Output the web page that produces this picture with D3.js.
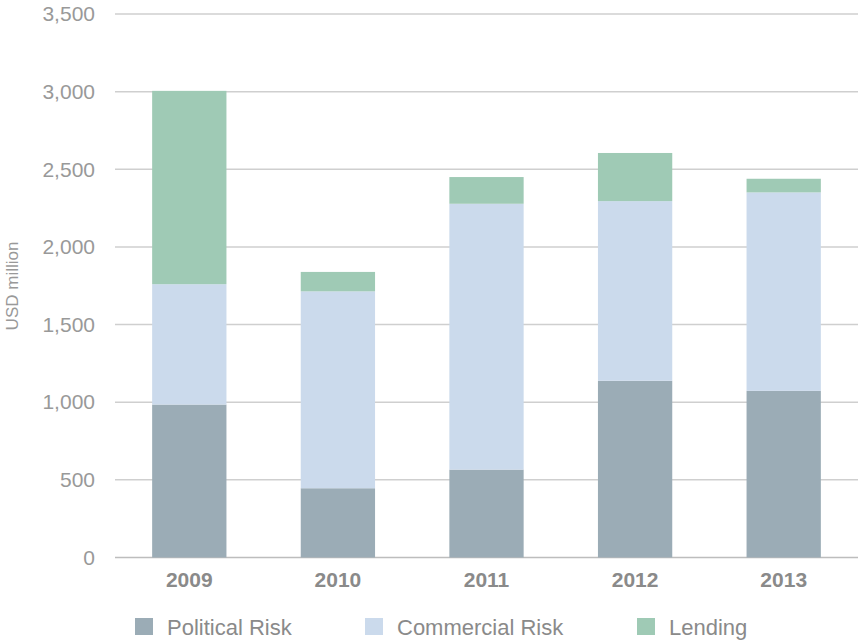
<!DOCTYPE html>
<html>
<head>
<meta charset="utf-8">
<script src="https://cdn.jsdelivr.net/npm/d3@7"></script>
<style>
  body { margin: 0; background: #fff; }
  svg { display: block; font-family: "Liberation Sans", Arial, sans-serif; }
</style>
</head>
<body>
<svg width="860" height="640"></svg>
<script>
const years = ["2009", "2010", "2011", "2012", "2013"];
const politicalRisk = [985, 446, 566, 1138, 1073];
const commercialRisk = [775, 1268, 1712, 1157, 1278];
const lending = [1245, 125, 172, 310, 88];
const yTicks = [0, 500, 1000, 1500, 2000, 2500, 3000, 3500];

const seriesNames = ["Political Risk", "Commercial Risk", "Lending"];
const seriesColors = ["#9bacb6", "#cbdaec", "#9fcab5"];

const svg = d3.select("svg");

const rows = years.map((y, i) => ({
    year: y,
    "Political Risk": politicalRisk[i],
    "Commercial Risk": commercialRisk[i],
    "Lending": lending[i]
}));

const stacked = d3.stack().keys(seriesNames)(rows);

const x = d3.scaleBand()
    .domain(years)
    .range([115, 858])
    .paddingInner(0.5)
    .paddingOuter(0.25);

const y = d3.scaleLinear()
    .domain([0, 3500])
    .range([557.5, 14]);

// grid lines
svg.append("g")
    .selectAll("line")
    .data(yTicks)
    .join("line")
    .attr("x1", 115)
    .attr("x2", 858)
    .attr("y1", d => y(d))
    .attr("y2", d => y(d))
    .attr("stroke", d => d === 0 ? "#bdbdbd" : "#cfcfcf")
    .attr("stroke-width", 1.5);

// y axis labels
const yAxis = svg.append("g")
    .attr("transform", "translate(95,0)")
    .call(d3.axisLeft(y).tickValues(yTicks).tickSize(0).tickPadding(0).tickFormat(d3.format(",")));
yAxis.select(".domain").remove();
yAxis.selectAll("text")
    .attr("fill", "#999")
    .attr("font-size", 21)
    .attr("font-family", "Liberation Sans, Arial, sans-serif");

// axis title
svg.append("text")
    .attr("transform", "translate(18,286) rotate(-90)")
    .attr("text-anchor", "middle")
    .attr("fill", "#999")
    .attr("font-size", 17)
    .text("USD million");

// bars
svg.append("g")
    .selectAll("g")
    .data(stacked)
    .join("g")
    .attr("fill", (d, i) => seriesColors[i])
    .selectAll("rect")
    .data(d => d)
    .join("rect")
    .attr("x", d => x(d.data.year))
    .attr("width", x.bandwidth())
    .attr("y", d => y(d[1]))
    .attr("height", d => y(d[0]) - y(d[1]));

// x axis labels
const xAxis = svg.append("g")
    .attr("transform", "translate(0,572)")
    .call(d3.axisBottom(x).tickSize(0).tickPadding(0));
xAxis.select(".domain").remove();
xAxis.selectAll("text")
    .attr("fill", "#8a8a8a")
    .attr("font-weight", "bold")
    .attr("font-size", 21)
    .attr("font-family", "Liberation Sans, Arial, sans-serif");

// legend
const legendX = [135, 365, 637];
const legend = svg.append("g")
    .selectAll("g")
    .data(seriesNames)
    .join("g")
    .attr("transform", (d, i) => `translate(${legendX[i]},618)`);

legend.append("rect")
    .attr("width", 18)
    .attr("height", 17)
    .attr("fill", (d, i) => seriesColors[i]);

legend.append("text")
    .attr("x", 32)
    .attr("y", 17)
    .attr("fill", "#8a8a8a")
    .attr("font-size", 22)
    .text(d => d);
</script>
</body>
</html>
